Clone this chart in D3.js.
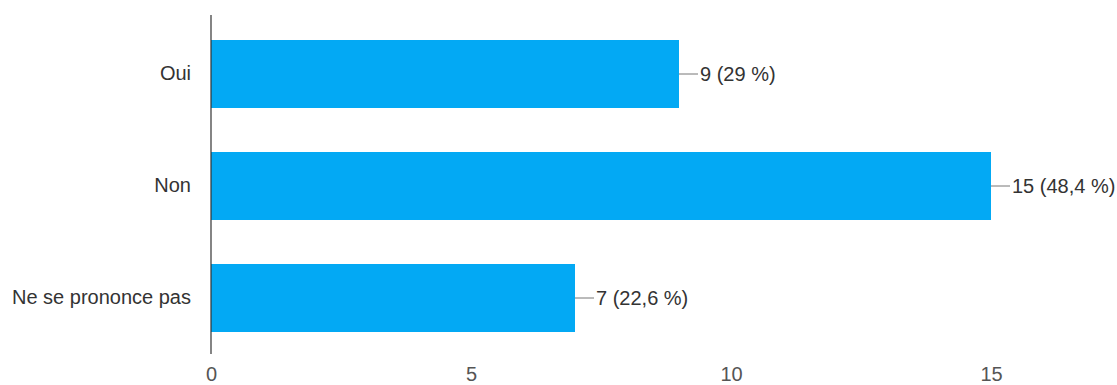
<!DOCTYPE html>
<html>
<head>
<meta charset="utf-8">
<script src="https://cdn.jsdelivr.net/npm/d3@7"></script>
<style>
  html, body { margin: 0; padding: 0; background: #fff; }
  svg { display: block; font-family: "Liberation Sans", Arial, sans-serif; }
</style>
</head>
<body>
<svg id="chart" width="1117" height="385"></svg>
<script>
// Survey responses
const categories = ["Oui", "Non", "Ne se prononce pas"];
const counts = [9, 15, 7];
const percents = ["29", "48,4", "22,6"];
const tickValues = [0, 5, 10, 15];

const svg = d3.select("#chart");

const x = d3.scaleLinear().domain([0, 15]).range([211, 991]);
const y = d3.scaleBand()
  .domain(categories)
  .range([18, 354])
  .paddingInner(0.393)
  .paddingOuter(0.1965);

const data = categories.map((c, i) => ({ cat: c, value: counts[i], pct: percents[i] }));

// bars
svg.selectAll("rect.bar")
  .data(data)
  .join("rect")
  .attr("class", "bar")
  .attr("x", x(0))
  .attr("y", d => y(d.cat))
  .attr("width", d => x(d.value) - x(0))
  .attr("height", y.bandwidth())
  .attr("fill", "#03a9f4");

// value labels with leader lines
const lab = svg.selectAll("g.val")
  .data(data)
  .join("g")
  .attr("class", "val")
  .attr("transform", d => `translate(${x(d.value)},${y(d.cat) + y.bandwidth() / 2})`);

lab.append("line")
  .attr("x1", 0).attr("x2", 19)
  .attr("y1", 0).attr("y2", 0)
  .attr("stroke", "#777")
  .attr("stroke-width", 1);

lab.append("text")
  .attr("x", 21)
  .attr("dy", "0.35em")
  .attr("font-size", 20)
  .attr("fill", "#333")
  .text(d => `${d.value} (${d.pct} %)`);

// category labels
const yAxis = d3.axisLeft(y).tickSize(0).tickPadding(20);
const gy = svg.append("g")
  .attr("transform", `translate(${x(0)},0)`)
  .call(yAxis);
gy.select(".domain").remove();
gy.selectAll("text")
  .attr("font-size", 20)
  .attr("font-family", "Liberation Sans, Arial, sans-serif")
  .attr("fill", "#333");

// vertical baseline
svg.append("line")
  .attr("x1", x(0)).attr("x2", x(0))
  .attr("y1", 15).attr("y2", 354)
  .attr("stroke", "#333")
  .attr("stroke-width", 1.2);

// x axis tick labels
const xAxis = d3.axisBottom(x).tickValues(tickValues).tickSize(0).tickPadding(0);
const gx = svg.append("g")
  .attr("transform", "translate(0,367)")
  .call(xAxis);
gx.select(".domain").remove();
gx.selectAll("text")
  .attr("font-size", 20)
  .attr("font-family", "Liberation Sans, Arial, sans-serif")
  .attr("fill", "#555");
</script>
</body>
</html>
